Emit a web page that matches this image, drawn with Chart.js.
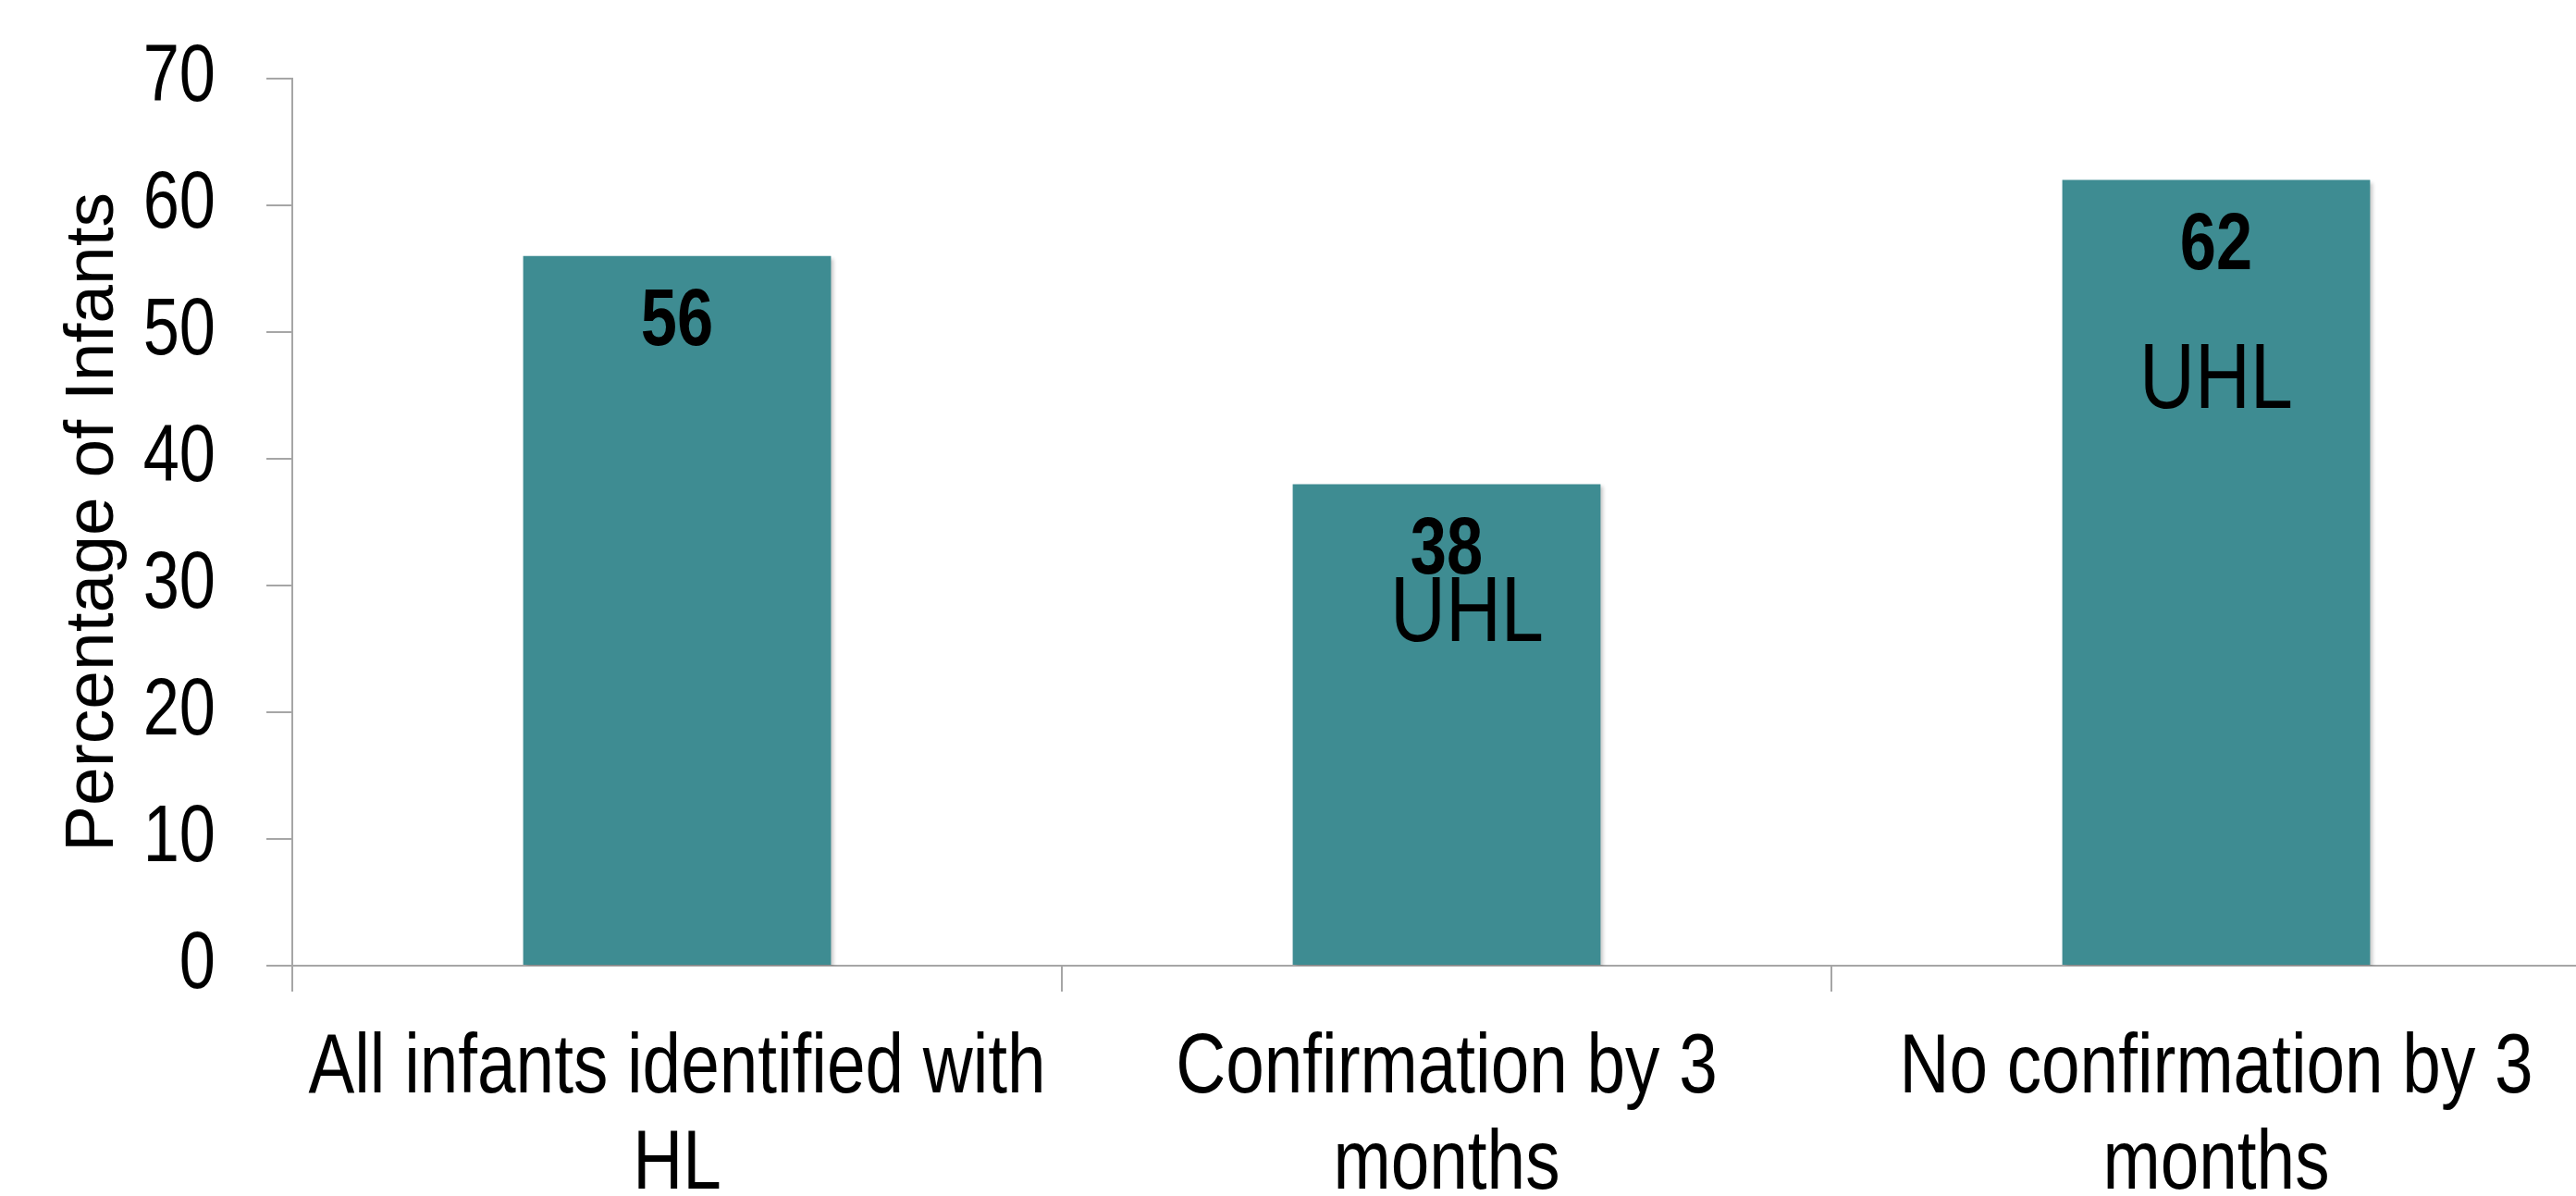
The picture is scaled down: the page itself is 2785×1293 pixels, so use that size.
<!DOCTYPE html>
<html>
<head>
<meta charset="utf-8">
<script src="https://cdn.jsdelivr.net/npm/chart.js@4.4.0/dist/chart.umd.min.js"></script>
<style>
  html, body { margin: 0; padding: 0; background: #fff; overflow: hidden; }
  #wrap { width: 2812px; height: 1293px; }
</style>
</head>
<body>
<div id="wrap"><canvas id="chart" width="2812" height="1293"></canvas></div>
<script>
const categories = [
  ['All infants identified with', 'HL'],
  ['Confirmation by 3', 'months'],
  ['No confirmation by 3', 'months']
];
const percentages = [56, 38, 62];
const yTicks = [0, 10, 20, 30, 40, 50, 60, 70];

const narrow = '"Liberation Sans Narrow", "Liberation Sans", sans-serif';
const axisGray = '#a6a6a6';
const barColor = '#3e8c92';

// no narrow face is installed, so squeeze the "Narrow" text horizontally
function condensed(text) {
  return /^[\d.]+$/.test(String(text)) ? 0.8 : 0.83;
}
const canvas = document.getElementById('chart');
const ctx = canvas.getContext('2d');
const rawFill = ctx.fillText.bind(ctx);
const rawMeasure = ctx.measureText.bind(ctx);
ctx.fillText = function (text, x, y, maxWidth) {
  if (!/Narrow/.test(ctx.font)) return rawFill(text, x, y, maxWidth);
  ctx.save();
  ctx.translate(x, y);
  ctx.scale(condensed(text), 1);
  rawFill(text, 0, 0);
  ctx.restore();
};
ctx.measureText = function (text) {
  const m = rawMeasure(text);
  if (!/Narrow/.test(ctx.font)) return m;
  return { width: m.width * condensed(text) };
};

// soft drop shadow under the bars
const barShadow = {
  id: 'barShadow',
  beforeDatasetDraw(chart) {
    const c = chart.ctx;
    c.save();
    c.shadowColor = 'rgba(0,0,0,0.22)';
    c.shadowBlur = 4;
    c.shadowOffsetX = 3;
    c.shadowOffsetY = 3;
  },
  afterDatasetDraw(chart) {
    chart.ctx.restore();
  }
};

// value inside the top of each bar, plus the extra "UHL" notes
const barText = {
  id: 'barText',
  afterDatasetsDraw(chart, args, opts) {
    const c = chart.ctx;
    const meta = chart.getDatasetMeta(0);
    const yScale = chart.scales.y;
    c.save();
    c.fillStyle = '#000';
    c.textAlign = 'center';
    c.textBaseline = 'middle';
    c.font = 'bold 88px ' + narrow;
    meta.data.forEach((bar, i) => {
      c.fillText(String(percentages[i]), bar.x, bar.y + 72);
    });
    c.font = '100px ' + narrow;
    opts.notes.forEach(n => {
      const bar = meta.data[n.index];
      c.fillText(n.text, bar.x + n.dx, yScale.getPixelForValue(n.value));
    });
    c.restore();
  }
};

new Chart(ctx, {
  type: 'bar',
  data: {
    labels: categories,
    datasets: [{
      data: percentages,
      backgroundColor: barColor,
      borderWidth: 0,
      barPercentage: 0.4,
      categoryPercentage: 1
    }]
  },
  plugins: [barShadow, barText],
  options: {
    responsive: false,
    animation: false,
    layout: { padding: { top: 85, left: 0, right: 0, bottom: 0 } },
    plugins: {
      legend: { display: false },
      tooltip: { enabled: false },
      barText: {
        notes: [
          { index: 1, text: 'UHL', value: 27.6, dx: 22 },
          { index: 2, text: 'UHL', value: 46, dx: 0 }
        ]
      }
    },
    scales: {
      x: {
        afterFit: s => { s.height = 249; s.paddingLeft = 0; s.paddingRight = 0; },
        border: { display: true, color: axisGray, width: 2 },
        grid: { offset: true, drawOnChartArea: false, drawTicks: true, tickLength: 28, color: axisGray, lineWidth: 2 },
        ticks: {
          color: '#000',
          font: { family: narrow, size: 90, lineHeight: 1.16 },
          padding: 32,
          maxRotation: 0,
          autoSkip: false
        }
      },
      y: {
        min: 0,
        max: 70,
        afterBuildTicks: s => { s.ticks = yTicks.map(v => ({ value: v })); },
        afterFit: s => { s.width = 316; s.paddingTop = 0; s.paddingBottom = 0; },
        border: { display: true, color: axisGray, width: 2 },
        grid: { drawOnChartArea: false, drawTicks: true, tickLength: 28, color: axisGray, lineWidth: 2 },
        ticks: {
          color: '#000',
          font: { family: narrow, size: 88 },
          padding: 55
        },
        title: {
          display: true,
          text: 'Percentage of Infants',
          color: '#000',
          font: { family: '"Liberation Sans", Arial, sans-serif', size: 75 },
          padding: { top: 56, bottom: 0 }
        }
      }
    }
  }
});
</script>
</body>
</html>
